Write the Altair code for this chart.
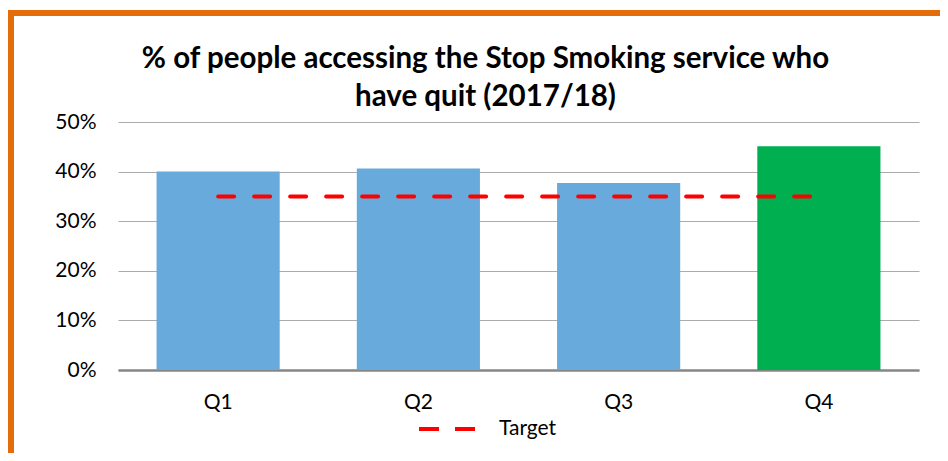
import altair as alt
import pandas as pd

quarters = ["Q1", "Q2", "Q3", "Q4"]
quit_pct = [0.400, 0.406, 0.377, 0.451]
target_pct = [0.35, 0.35, 0.35, 0.35]
bar_colors = ["#69AADD", "#69AADD", "#69AADD", "#00B050"]
series_name = ["Target", "Target", "Target", "Target"]

df = pd.DataFrame({
    "quarter": quarters,
    "pct": quit_pct,
    "target": target_pct,
    "color": bar_colors,
    "series": series_name,
})

FONT = "Lato"

x_enc = alt.X(
    "quarter:N",
    sort=quarters,
    scale=alt.Scale(paddingInner=0.385, paddingOuter=0.1925),
    axis=alt.Axis(title=None, labelAngle=0, ticks=False, grid=False,
                  domainColor="#868686", domainWidth=2.5, labelPadding=21),
)
y_scale = alt.Scale(domain=[0, 0.5])
y_axis = alt.Axis(title=None, format="%", values=[0, 0.1, 0.2, 0.3, 0.4, 0.5],
                  domain=False, ticks=False, grid=True, gridColor="#ABABAB",
                  gridWidth=1, labelPadding=22)

frame = alt.Chart(alt.Data(values=[{"f": 1}])).mark_rect(
    filled=False, stroke="#E46C0A", strokeWidth=6
).encode(
    x=alt.value(-107), x2=alt.value(860),
    y=alt.value(-109), y2=alt.value(360),
)

bars = alt.Chart(df).mark_bar().encode(
    x=x_enc,
    y=alt.Y("pct:Q", scale=y_scale, axis=y_axis),
    color=alt.Color("color:N", scale=None),
)

line = alt.Chart(df).mark_line(
    strokeDash=[16, 20], strokeCap="round", strokeWidth=4
).encode(
    x=x_enc,
    y=alt.Y("target:Q", scale=y_scale, axis=y_axis),
    color=alt.Color(
        "series:N",
        scale=alt.Scale(domain=["Target"], range=["#FF0000"]),
        legend=alt.Legend(
            title=None, orient="none", legendX=299, legendY=277,
            symbolType="stroke", symbolSize=3136, symbolStrokeWidth=4,
            symbolDash=[20, 16], labelFontSize=21, labelOffset=22,
            labelFont=FONT, labelColor="black",
        ),
    ),
)

chart = alt.layer(frame, bars, line).resolve_scale(color="independent").properties(
    width=801,
    height=248,
    autosize=alt.AutoSizeParams(type="none"),
    padding={"left": 110, "top": 114, "right": 21, "bottom": 83},
    title=alt.Title(
        ["% of people accessing the Stop Smoking service who", "have quit (2017/18)"],
        fontSize=29.5, font=FONT, fontWeight="bold", color="black",
        anchor="middle", dx=-33, lineHeight=38, offset=-102,
    ),
).configure_view(stroke=None).configure_axis(
    labelFont=FONT, labelFontSize=21, labelColor="black"
)

chart.save("out.html", embed_options={"renderer": "svg", "actions": False})
